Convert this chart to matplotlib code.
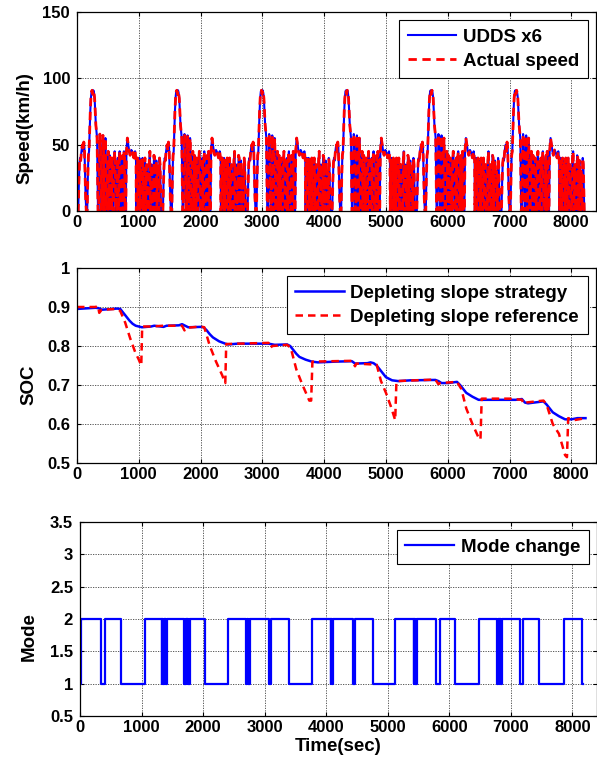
import numpy as np
import matplotlib
matplotlib.use("Agg")
import matplotlib.pyplot as plt
from matplotlib.ticker import FuncFormatter

# one UDDS cycle: (time s, speed km/h)
udds_cycle = [
    (0, 0), (20, 0), (30, 20), (40, 36), (50, 40), (60, 38), (70, 44), (80, 48),
    (90, 50), (100, 45), (110, 52), (120, 48), (130, 30), (140, 10), (150, 0),
    (165, 0), (175, 25), (185, 42), (195, 45), (205, 60), (215, 75), (225, 85),
    (235, 90), (245, 91), (255, 88), (265, 91), (275, 89), (285, 85), (295, 75),
    (305, 65), (315, 60), (325, 55), (335, 20), (340, 0), (350, 0),
    (360, 30), (370, 58), (380, 50), (390, 20), (395, 0), (402, 0), (410, 35),
    (420, 57), (430, 45), (440, 0), (450, 40), (460, 55), (470, 30), (478, 0),
    (485, 0), (495, 38), (505, 45), (515, 20), (520, 0), (530, 42), (540, 35),
    (550, 0), (556, 0), (565, 40), (575, 32), (585, 0), (600, 38), (610, 45),
    (620, 30), (628, 0), (640, 0), (650, 35), (660, 40), (670, 0), (680, 38),
    (690, 45), (700, 20), (705, 0), (720, 0), (730, 40), (740, 42), (750, 0),
    (760, 45), (770, 38), (780, 0), (790, 0), (800, 45), (815, 55), (830, 50),
    (845, 45), (860, 42), (880, 46), (900, 44), (920, 40), (940, 45), (955, 38),
    (960, 0), (970, 38), (980, 40), (990, 0), (1000, 35), (1010, 40), (1020, 0),
    (1030, 38), (1040, 35), (1050, 0), (1060, 40), (1070, 30), (1080, 0),
    (1090, 36), (1100, 40), (1110, 0), (1120, 30), (1130, 35), (1140, 10),
    (1145, 0), (1160, 0), (1170, 38), (1180, 45), (1190, 0), (1200, 30),
    (1210, 35), (1220, 0), (1235, 0), (1245, 42), (1255, 40), (1265, 0),
    (1275, 35), (1285, 38), (1295, 0), (1305, 30), (1315, 28), (1325, 0),
    (1335, 40), (1345, 35), (1360, 0),
]
cycle_len = 1370
n_cycles = 6

soc_strategy = [
    (0, 0.895), (300, 0.898), (350, 0.897), (400, 0.893), (650, 0.896), (700, 0.895),
    (750, 0.885), (800, 0.875), (850, 0.865), (900, 0.857), (950, 0.852), (1000, 0.85),
    (1050, 0.848), (1200, 0.85), (1250, 0.852), (1350, 0.85), (1400, 0.849),
    (1450, 0.852), (1650, 0.853), (1700, 0.856), (1750, 0.852), (1800, 0.848),
    (2000, 0.849), (2050, 0.848), (2100, 0.84), (2150, 0.83), (2200, 0.822),
    (2300, 0.812), (2400, 0.806), (2450, 0.804), (2600, 0.806), (3100, 0.806),
    (3200, 0.803), (3400, 0.804), (3450, 0.8), (3500, 0.79), (3550, 0.78),
    (3600, 0.772), (3700, 0.765), (3800, 0.76), (3900, 0.758), (4200, 0.76),
    (4450, 0.761), (4500, 0.755), (4700, 0.756), (4750, 0.758), (4800, 0.756),
    (4850, 0.75), (4900, 0.74), (4950, 0.73), (5000, 0.72), (5100, 0.712),
    (5200, 0.71), (5400, 0.712), (5800, 0.713), (5850, 0.71), (5900, 0.705),
    (6000, 0.705), (6150, 0.708), (6200, 0.7), (6250, 0.69), (6300, 0.68),
    (6400, 0.67), (6500, 0.662), (7100, 0.662), (7200, 0.664), (7250, 0.655),
    (7300, 0.653), (7550, 0.658), (7600, 0.65), (7650, 0.64), (7700, 0.63),
    (7800, 0.62), (7900, 0.612), (8000, 0.612), (8100, 0.615), (8230, 0.615),
]

soc_reference = [
    (0, 0.9), (300, 0.9), (340, 0.903), (360, 0.885), (400, 0.893), (650, 0.895),
    (700, 0.89), (780, 0.86), (860, 0.82), (940, 0.785), (1000, 0.765), (1040, 0.75),
    (1055, 0.85), (1200, 0.85), (1400, 0.852), (1700, 0.852), (1740, 0.84),
    (1760, 0.845), (1800, 0.847), (2000, 0.85), (2060, 0.848), (2150, 0.8),
    (2250, 0.76), (2350, 0.725), (2400, 0.705), (2415, 0.805), (2600, 0.806),
    (3100, 0.808), (3130, 0.795), (3160, 0.8), (3400, 0.803), (3460, 0.795),
    (3550, 0.74), (3650, 0.7), (3760, 0.66), (3790, 0.66), (3810, 0.76),
    (4450, 0.762), (4500, 0.748), (4520, 0.755), (4850, 0.752), (4920, 0.71),
    (5000, 0.68), (5080, 0.645), (5150, 0.61), (5170, 0.71), (5800, 0.714),
    (5850, 0.702), (5880, 0.705), (6150, 0.708), (6220, 0.69), (6300, 0.64),
    (6400, 0.6), (6500, 0.565), (6530, 0.56), (6550, 0.665), (7000, 0.665),
    (7200, 0.662), (7230, 0.652), (7260, 0.655), (7550, 0.66), (7600, 0.65),
    (7700, 0.6), (7800, 0.575), (7900, 0.52), (7930, 0.515), (7950, 0.615),
    (8050, 0.61), (8230, 0.615),
]

# mode switch instants: (time s, new mode)
mode_switches = [
    (0, 1), (18, 2), (340, 1), (400, 2), (660, 1), (1050, 2),
    (1330, 1), (1340, 2), (1352, 1), (1362, 2), (1374, 1), (1384, 2), (1396, 1), (1406, 2),
    (1690, 1), (1700, 2), (1712, 1), (1722, 2), (1734, 1), (1744, 2), (1756, 1), (1766, 2),
    (1778, 1), (1786, 2), (2025, 1), (2407, 2),
    (2704, 1), (2714, 2), (2728, 1), (2738, 2), (2750, 1), (2758, 2),
    (3068, 1), (3100, 2), (3395, 1), (3765, 2),
    (4074, 1), (4084, 2), (4100, 1), (4110, 2), (4432, 1), (4475, 2), (4753, 1), (5123, 2),
    (5420, 1), (5430, 2), (5442, 1), (5452, 2), (5464, 1), (5474, 2),
    (5790, 1), (5845, 2), (6099, 1), (6481, 2),
    (6778, 1), (6788, 2), (6800, 1), (6810, 2), (6822, 1), (6832, 2), (6846, 1), (6856, 2),
    (7142, 1), (7204, 2), (7457, 1), (7870, 2), (8160, 1), (8170, 1),
]

ct, cv = map(np.array, zip(*udds_cycle))
speed_t = np.concatenate([ct + k * cycle_len for k in range(n_cycles)])
speed_v = np.tile(cv, n_cycles)
st, sv = zip(*soc_strategy)
rt, rv = zip(*soc_reference)
mt, mv = zip(*mode_switches)

plt.rcParams['font.family'] = ['Liberation Sans', 'DejaVu Sans']
plt.rcParams['font.weight'] = 'bold'

fig = plt.figure(figsize=(5.97, 7.62), dpi=100)
W, H = 597, 762


def make_ax(left, top, right, bottom):
    return fig.add_axes([left / W, 1 - bottom / H, (right - left) / W, (bottom - top) / H])


ax1 = make_ax(77, 12, 596, 211)
ax2 = make_ax(77, 268, 596, 463)
ax3 = make_ax(80, 522, 597, 716)

ax1.plot(speed_t, speed_v, color='#0000ff', lw=1.5, label='UDDS x6')
ax1.plot(speed_t, speed_v, color='#ff0000', lw=2, dashes=(3, 2), label='Actual speed')
ax1.set_ylim(0, 150)
ax1.set_yticks([0, 50, 100, 150])
ax1.set_ylabel('Speed(km/h)', fontweight='bold', fontsize=13.5)

ax2.plot(st, sv, color='#0000ff', lw=1.8, label='Depleting slope strategy')
ax2.plot(rt, rv, color='#ff0000', lw=1.8, dashes=(3, 2), label='Depleting slope reference')
ax2.set_ylim(0.5, 1)
ax2.set_yticks([0.5, 0.6, 0.7, 0.8, 0.9, 1])
ax2.set_ylabel('SOC', fontweight='bold', fontsize=13.5)

ax3.step(mt, mv, where='post', color='#0000ff', lw=1.6, label='Mode change')
ax3.set_ylim(0.5, 3.5)
ax3.set_yticks([0.5, 1, 1.5, 2, 2.5, 3, 3.5])
ax3.set_ylabel('Mode', fontweight='bold', fontsize=13.5)
ax3.set_xlabel('Time(sec)', fontweight='bold', fontsize=13.5, labelpad=2)

# label anchors (right edge of rotated text)
ax1.yaxis.set_label_coords((33 - 77) / 519, (211 - 128) / 199)
ax2.yaxis.set_label_coords((37 - 77) / 519, (463 - 385) / 195)
ax3.yaxis.set_label_coords((38 - 80) / 517, (716 - 637) / 194)

fmt = FuncFormatter(lambda v, p: '%g' % v)
for ax in (ax1, ax2, ax3):
    ax.set_xlim(0, 8400)
    ax.set_xticks(range(0, 8001, 1000))
    ax.yaxis.set_major_formatter(fmt)
    ax.grid(True, color='0.25', lw=0.6, linestyle=(0, (1.5, 1.5)))
    ax.tick_params(direction='in', top=True, right=True, length=3, width=0.8, labelsize=12)
    ax.tick_params(axis='x', pad=3)
    ax.tick_params(axis='y', pad=5)
    for s in ax.spines.values():
        s.set_linewidth(0.9)
    leg = ax.legend(loc='upper right', fancybox=False, edgecolor='black', framealpha=1,
                    handlelength=2.6, handletextpad=0.35, borderaxespad=0.45,
                    borderpad=0.45, labelspacing=0.35,
                    prop={'weight': 'bold', 'size': 13.5})
    leg.get_frame().set_linewidth(0.8)

fig.savefig('out.png', dpi=100)
